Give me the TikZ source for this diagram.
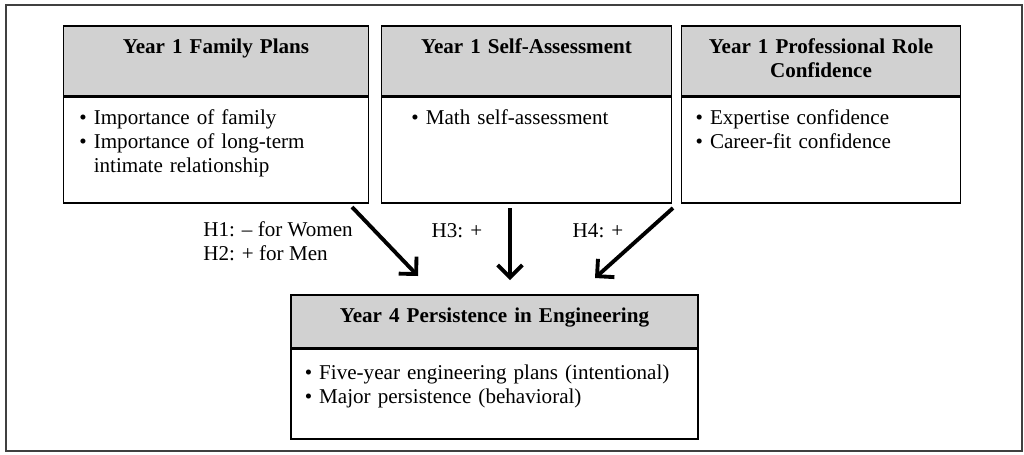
\documentclass[tikz,border=0pt]{standalone}
\usepackage{fontspec}
\setmainfont{Liberation Serif}
\usepackage{tikz}
\usetikzlibrary{positioning,arrows.meta}
\definecolor{hdrgray}{gray}{0.82}
\tikzstyle{hdr} = [draw, line width=1pt, fill=hdrgray, anchor=north, align=center, inner xsep=8pt, inner ysep=0pt, text height=15.9pt, text depth=23.8pt, font=\fontsize{12}{13.7}\selectfont\bfseries]
\tikzstyle{body} = [draw, line width=1pt, align=left, inner xsep=9pt, inner ysep=0pt, text height=15.3pt, text depth=45pt, font=\fontsize{12}{13.7}\selectfont]
\tikzstyle{lbl} = [inner sep=0pt, align=left, font=\fontsize{12}{13.7}\selectfont]
\tikzstyle{arrow} = [line width=2.2pt, -{Straight Barb[length=7pt,width=14pt]}]

\begin{document}
\begin{tikzpicture}[x=0.02cm,y=-0.02cm]
	\useasboundingbox (0,0) rectangle (1024,454);
	\draw[line width=0.6pt, black!75] (6,5) rectangle (1022,451);
	\node[hdr, text width=157.5pt] (famhd) at (216,25) {Year 1 Family Plans};
	\node[body, text width=155.5pt, below=0pt of famhd] (fambd) {\textbullet\ Importance of family\\\textbullet\ Importance of long-term\\\hphantom{\textbullet\ }intimate relationship};
	\node[hdr, text width=149pt] (selfhd) at (526.5,25) {Year 1 Self-Assessment};
	\node[body, text width=131pt, inner xsep=17pt, below=0pt of selfhd] (selfbd) {\textbullet\ Math self-assessment};
	\node[hdr, text width=142.7pt] (profhd) at (821,25) {Year 1 Professional Role\\Confidence};
	\node[body, text width=142.7pt, inner xsep=8pt, below=0pt of profhd] (profbd) {\textbullet\ Expertise confidence\\\textbullet\ Career-fit confidence};
	\node[hdr, text width=215.9pt, text depth=14.2pt] (perhd) at (494.5,294) {Year 4 Persistence in Engineering};
	\node[body, text width=215.9pt, inner xsep=8pt, text height=17pt, text depth=34pt, below=0pt of perhd] (perbd) {\textbullet\ Five-year engineering plans (intentional)\\\textbullet\ Major persistence (behavioral)};
	\coordinate (famout) at (352,207);
	\coordinate (famin) at (418,276);
	\coordinate (selfout) at (510,208);
	\coordinate (selfin) at (510,280);
	\coordinate (profout) at (673,208);
	\coordinate (profin) at (595,278);
	\draw[arrow] (famout) -- (famin);
	\draw[arrow] (selfout) -- (selfin);
	\draw[arrow] (profout) -- (profin);
	\node[lbl, anchor=west] (hyp12) at (203,241) {H1: -- for Women\\H2: + for Men};
	\node[lbl] (hyp3) at (457,231) {H3: +};
	\node[lbl] (hyp4) at (598,231) {H4: +};
\end{tikzpicture}
\end{document}
